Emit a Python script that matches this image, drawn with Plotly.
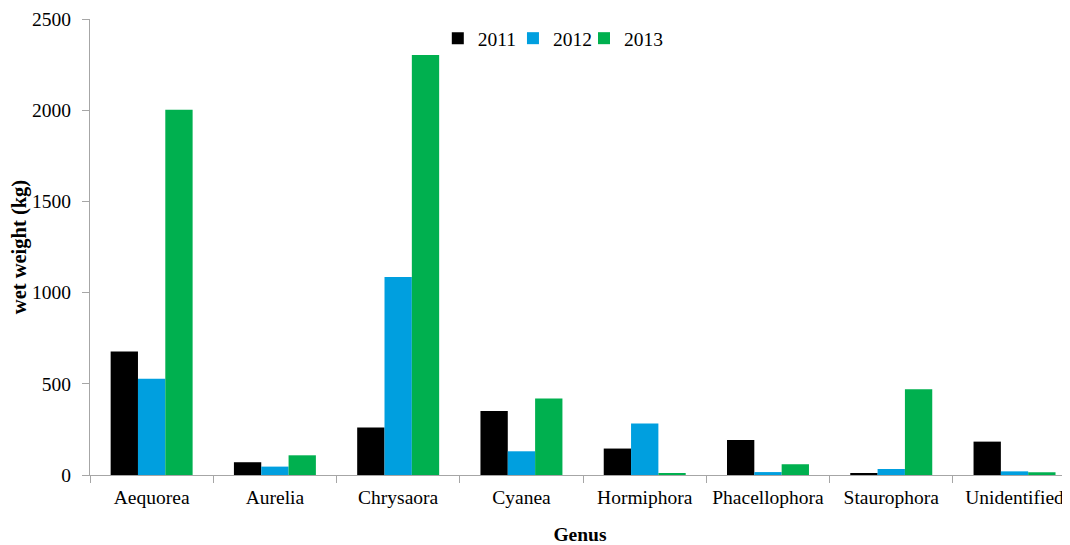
import plotly.graph_objects as go

genus = ["Aequorea", "Aurelia", "Chrysaora", "Cyanea", "Hormiphora",
         "Phacellophora", "Staurophora", "Unidentified"]
y2011 = [677, 70, 261, 351, 145, 192, 7, 183]
y2012 = [528, 46, 1086, 130, 283, 16, 33, 20]
y2013 = [2003, 108, 2303, 420, 11, 59, 470, 15]
years = ["2011", "2012", "2013"]
colors = ["#000000", "#009FDF", "#00B04F"]

FONT = "Liberation Serif"
legend_ids = ["legend", "legend2", "legend3"]
legend_x = [0.3549, 0.4316, 0.5041]

fig = go.Figure()
for name, vals, c, lid in zip(years, [y2011, y2012, y2013], colors, legend_ids):
    fig.add_trace(go.Bar(x=genus, y=vals, name=name, marker_color=c,
                         marker_line_width=0, legend=lid))

leg_common = dict(orientation="h", y=1.0, xanchor="left", yanchor="top",
                  font=dict(family=FONT, size=19.5, color="#000000"),
                  itemwidth=30, bgcolor="rgba(0,0,0,0)")

# page body has an 8px default margin: figure sized 1062x537 to fill the 1070x545 window
fig.update_layout(
    width=1062, height=537,
    margin=dict(l=82, r=0, t=11, b=70, autoexpand=False),
    plot_bgcolor="white", paper_bgcolor="white",
    barmode="group", bargap=0.335, bargroupgap=0,
    font=dict(family=FONT, size=19.5, color="#000000"),
    showlegend=True,
    legend=dict(x=legend_x[0], **leg_common),
    legend2=dict(x=legend_x[1], **leg_common),
    legend3=dict(x=legend_x[2], **leg_common),
    xaxis=dict(
        range=[-0.5, 7.45], showline=True, linecolor="#A6A6A6", linewidth=1,
        ticks="outside", tickcolor="#A6A6A6", ticklen=7, tickson="boundaries",
        showgrid=False, zeroline=False, automargin=False, ticklabelstandoff=5,
        title=dict(text="<b>Genus</b>", font=dict(family=FONT, size=19.5), standoff=20),
        tickfont=dict(family=FONT, size=19.5),
    ),
    yaxis=dict(
        range=[0, 2500], dtick=500, showline=True, linecolor="#A6A6A6", linewidth=1,
        ticks="outside", tickcolor="#A6A6A6", ticklen=7, ticklabelstandoff=7,
        showgrid=False, zeroline=False, automargin=False,
        title=dict(text="<b>wet weight (kg)</b>", font=dict(family=FONT, size=20.5), standoff=3),
        tickfont=dict(family=FONT, size=19.5),
    ),
)
fig.write_html("out.html")
